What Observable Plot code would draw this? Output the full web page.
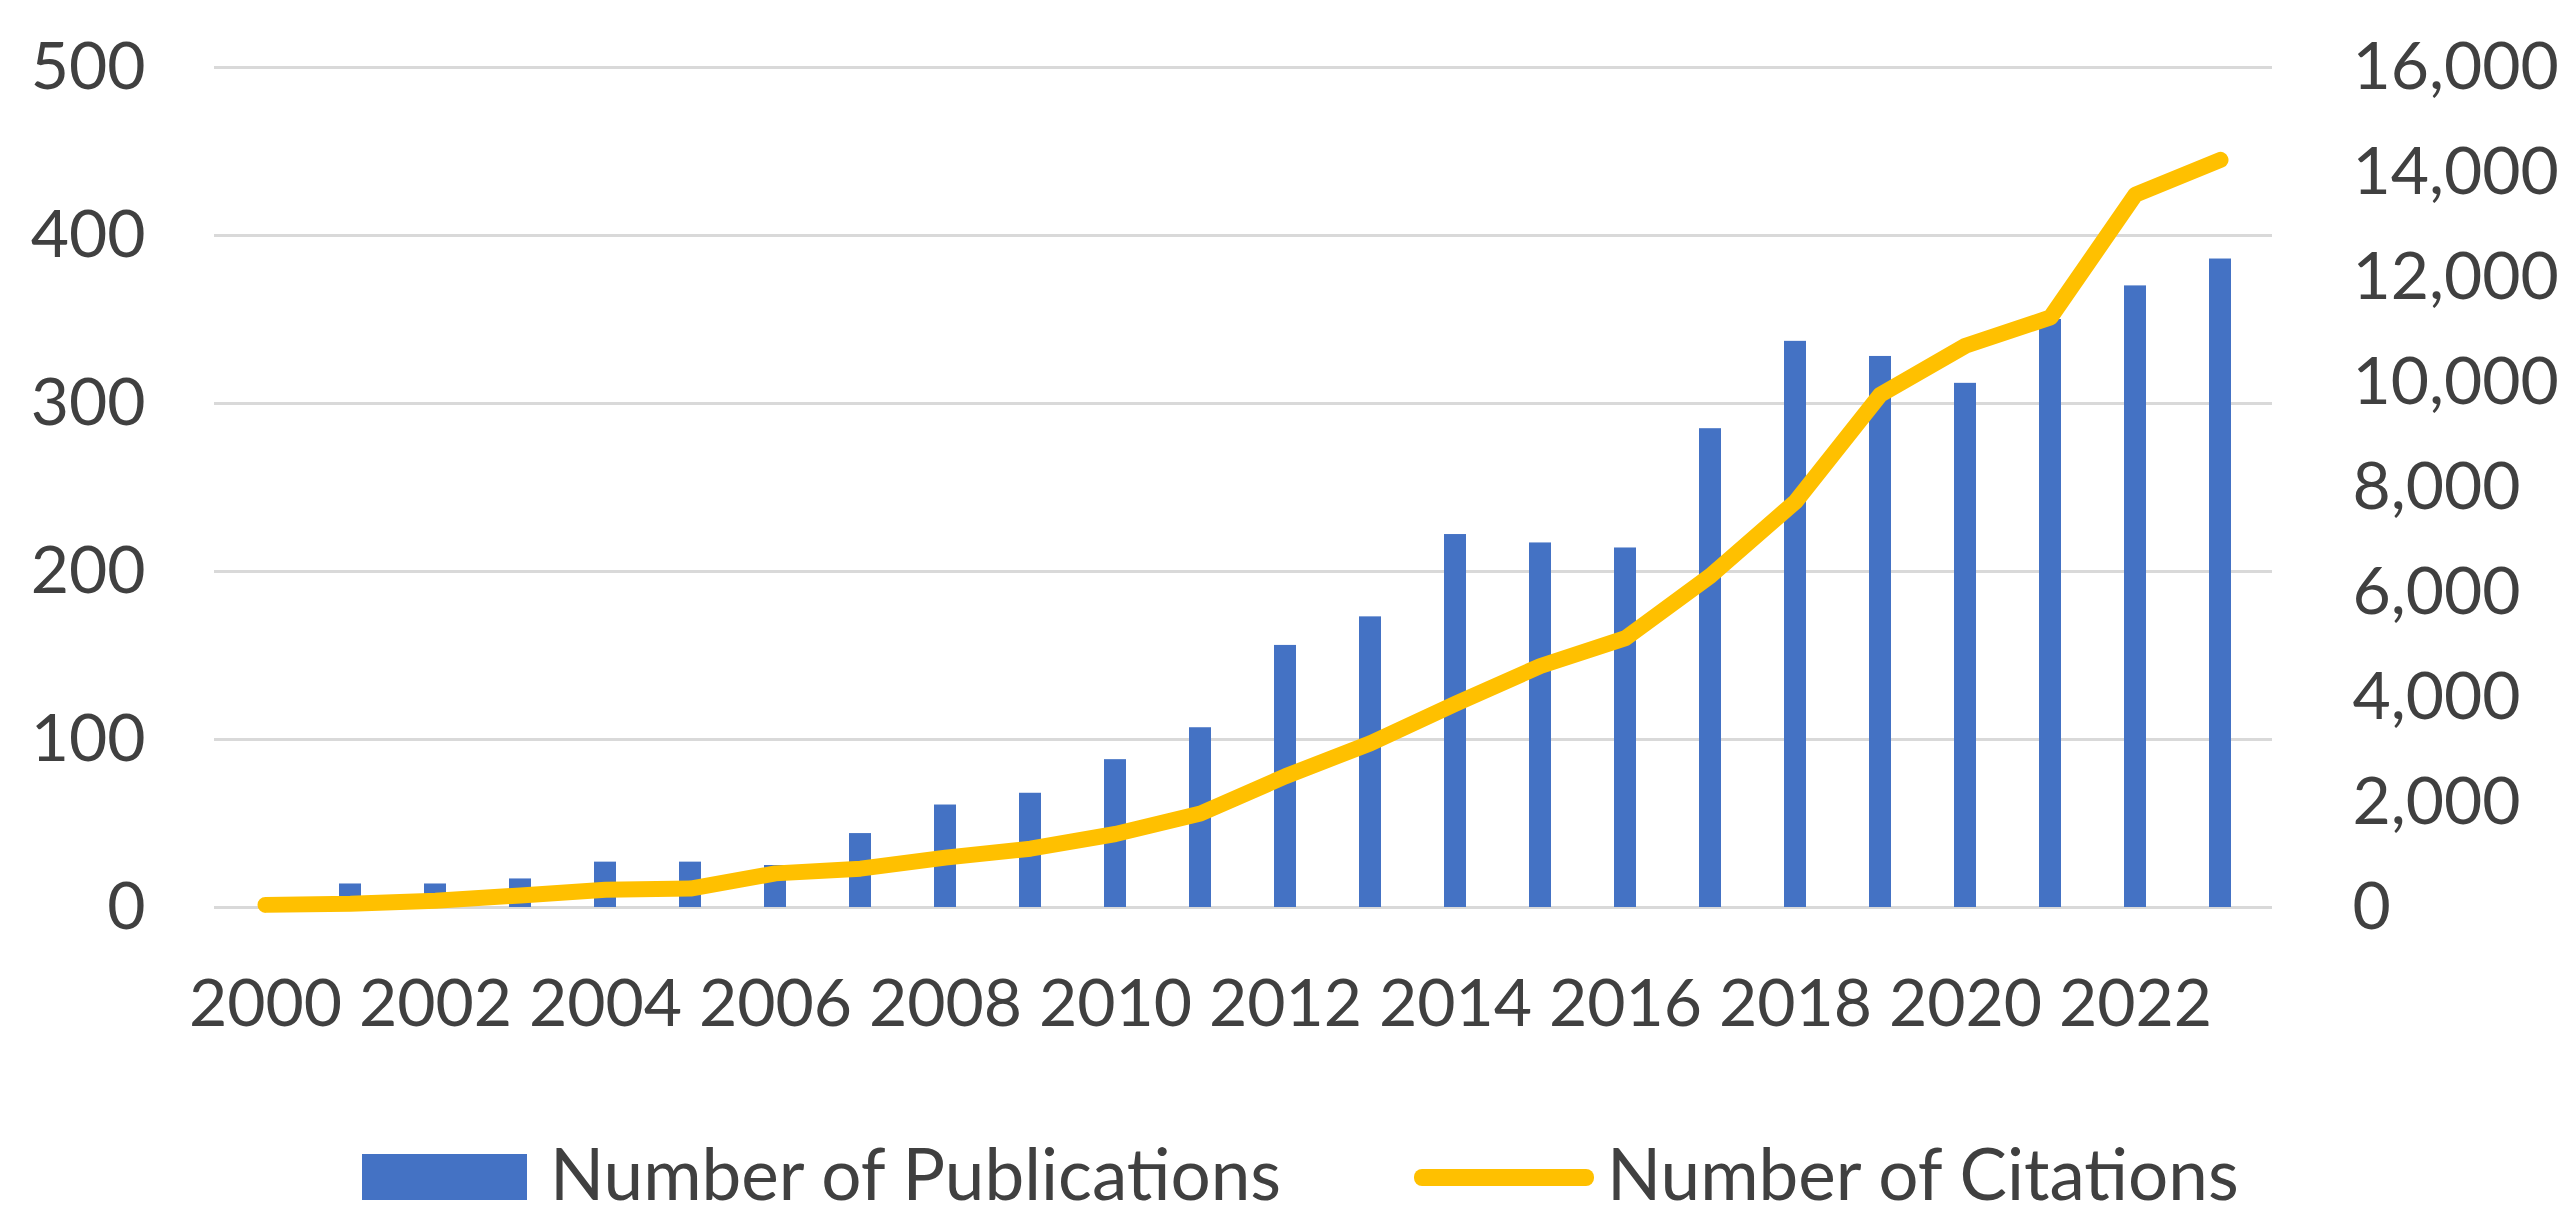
<!DOCTYPE html>
<html>
<head>
<meta charset="utf-8">
<script src="https://cdn.jsdelivr.net/npm/d3@7"></script>
<script src="https://cdn.jsdelivr.net/npm/@observablehq/plot@0.6"></script>
<style>
html, body { margin: 0; padding: 0; background: #fff; overflow: hidden; }
#legend { position: relative; width: 2575px; height: 127px; font-family: Lato, sans-serif; font-size: 71px; color: #404040; }
#legend .sw, #legend .lbl { position: absolute; }
#legend .lbl { line-height: 71px; white-space: nowrap; }
</style>
</head>
<body>
<div id="chart"></div>
<div id="legend"></div>
<script>
const years = [2000,2001,2002,2003,2004,2005,2006,2007,2008,2009,2010,2011,2012,2013,2014,2015,2016,2017,2018,2019,2020,2021,2022,2023];
const publications = [0,14,14,17,27,27,25,44,61,68,88,107,156,173,222,217,214,285,337,328,312,350,370,386];
const citations = [50,70,130,230,340,360,650,740,950,1120,1400,1790,2500,3130,3880,4600,5130,6320,7730,9770,10700,11240,13580,14240];
const leftTicks = [0,100,200,300,400,500];
const rightTicks = [0,2000,4000,6000,8000,10000,12000,14000,16000];
const xTicks = [2000,2002,2004,2006,2008,2010,2012,2014,2016,2018,2020,2022];
const seriesNames = ["Number of Publications", "Number of Citations"];
const colors = ["#4472c4", "#ffc000"];

const ratio = rightTicks[rightTicks.length - 1] / leftTicks[leftTicks.length - 1];
const rows = years.map((y, i) => ({year: y, pubs: publications[i], cites: citations[i]}));

const chart = Plot.plot({
  width: 2575,
  height: 1100,
  marginLeft: 214,
  marginRight: 303,
  marginTop: 67,
  marginBottom: 193,
  style: {fontFamily: "Lato, sans-serif", fontSize: "66px", color: "#404040", background: "#fff", overflow: "visible"},
  x: {type: "band", domain: years, paddingInner: 0.74, paddingOuter: 0.37},
  y: {domain: [0, leftTicks[leftTicks.length - 1]]},
  marks: [
    Plot.gridY({ticks: leftTicks, stroke: "#d9d9d9", strokeOpacity: 1, strokeWidth: 3}),
    Plot.barY(rows, {x: "year", y: "pubs", fill: colors[0]}),
    Plot.line(rows, {x: "year", y: d => d.cites / ratio, stroke: colors[1], strokeWidth: 16, strokeLinejoin: "round", strokeLinecap: "round", curve: "linear"}),
    Plot.axisY({ticks: leftTicks, tickSize: 0, tickPadding: 69, label: null, fontSize: 66}),
    Plot.axisY({anchor: "right", ticks: rightTicks.map(v => v / ratio), tickFormat: v => d3.format(",")(Math.round(v * ratio)), tickSize: 0, tickPadding: 80, label: null, fontSize: 66}),
    Plot.axisX({ticks: xTicks, tickFormat: d => String(d), tickSize: 0, tickPadding: 72, label: null, fontSize: 66})
  ]
});
document.getElementById("chart").appendChild(chart);

const legend = document.getElementById("legend");
legend.innerHTML = `
  <div class="sw" style="left:362px;top:54px;width:165px;height:46px;background:${colors[0]}"></div>
  <span class="lbl" style="left:550px;top:37px">${seriesNames[0]}</span>
  <div class="sw" style="left:1414px;top:69px;width:180px;height:17px;border-radius:8px;background:${colors[1]}"></div>
  <span class="lbl" style="left:1607px;top:37px">${seriesNames[1]}</span>
`;
</script>
</body>
</html>
